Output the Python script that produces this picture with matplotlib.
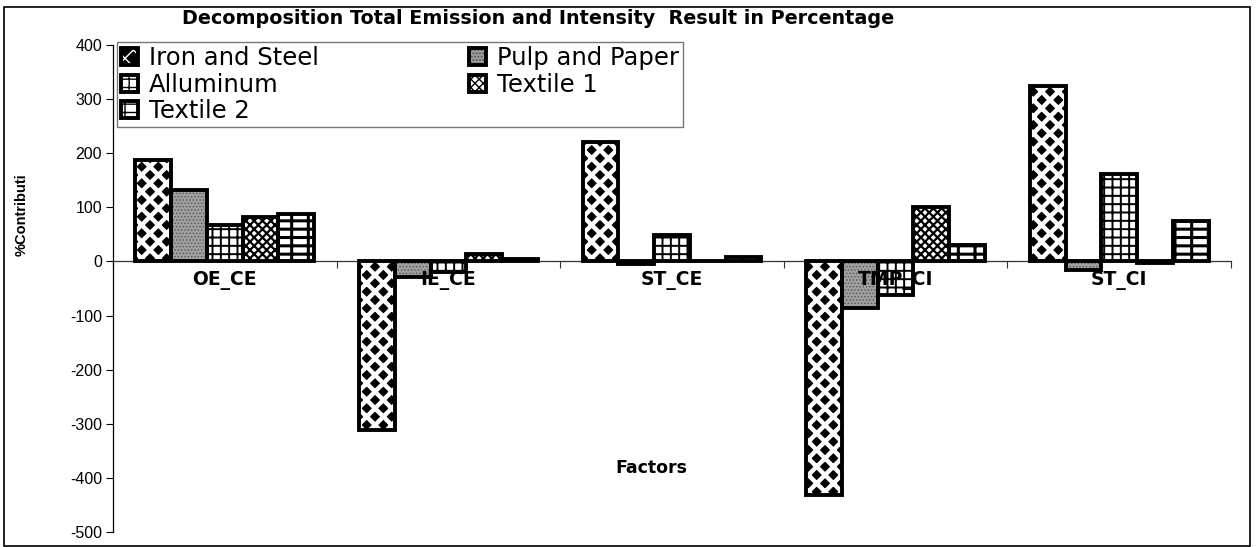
import numpy as np
import matplotlib.pyplot as plt
import matplotlib as mpl
from matplotlib.patches import Rectangle

plt.rcParams['font.family'] = ['Liberation Sans', 'DejaVu Sans']
plt.rcParams['axes.unicode_minus'] = False

# data ------------------------------------------
categories = ['OE_CE', 'IE_CE', 'ST_CE', 'TMP_CI', 'ST_CI']
iron_steel = [187, -311, 221, -432, 325]
pulp_paper = [132, -28, -4, -86, -16]
aluminum = [68, -19, 49, -62, 161]
textile_1 = [83, 14, 0, 101, -3]
textile_2 = [87, 4, 9, 30, 74]
yticks = [-500, -400, -300, -200, -100, 0, 100, 200, 300, 400]

fig = plt.figure(figsize=(12.57, 5.47), dpi=100)
ax = fig.add_axes([113/1257, 1-532/547, (1231-113)/1257, (532-45)/547])

x = np.arange(len(categories))
w = 0.16
wide = ['DejaVu Sans']


def hatched_bar(vals, off, face, hatch, hcolor, hlw):
    with mpl.rc_context({'hatch.linewidth': hlw}):
        fill = ax.bar(x + off, vals, w, color=face, edgecolor=hcolor,
                      linewidth=0, hatch=hatch, zorder=2)
    for p in fill:
        if hasattr(p, 'set_hatch_linewidth'):
            p.set_hatch_linewidth(hlw)
    edge = ax.bar(x + off, vals, w, fill=False, edgecolor='black',
                  linewidth=2.8, zorder=3)
    return fill, edge


series = [
    ('Iron and Steel', iron_steel, 'black', 'xx', 'white', 3.2),
    ('Pulp and Paper', pulp_paper, '#a0a0a0', '.....', '#555555', 0.6),
    ('Alluminum', aluminum, 'white', '++', 'black', 1.4),
    ('Textile 1', textile_1, 'white', 'xxxx', 'black', 1.6),
    ('Textile 2', textile_2, 'white', '--|', 'black', 2.2),
]

handles = {}
for i, (name, vals, face, hatch, hc, hlw) in enumerate(series):
    f, e = hatched_bar(vals, (i - 2) * w, face, hatch, hc, hlw)
    handles[name] = (f[0], e[0])

ax.set_xlim(-0.5, 4.5)
ax.set_ylim(-500, 400)
ax.set_yticks(yticks)
ax.tick_params(axis='y', labelsize=11.5, length=5, width=0.8, pad=3)
ax.spines['top'].set_visible(False)
ax.spines['right'].set_visible(False)
ax.spines['left'].set_linewidth(0.9)
ax.spines['bottom'].set_position(('data', 0))
ax.spines['bottom'].set_linewidth(0.9)
ax.spines['bottom'].set_color('#333333')
ax.set_xticks(np.arange(-0.5, 5, 1))
ax.set_xticklabels([])
ax.tick_params(axis='x', length=5, width=0.8, color='#333333')

for xi, c in zip(x, categories):
    ax.text(xi, -36, c, ha='center', va='center', fontsize=13.5,
            fontweight='bold', family=wide, zorder=5)

fig.text(538/1257, 1-18/547, 'Decomposition Total Emission and Intensity  Result in Percentage',
         ha='center', va='center', fontsize=13.8, fontweight='bold', family=wide)
fig.text(651/1257, 1-468/547, 'Factors', ha='center', va='center',
         fontsize=12.5, fontweight='bold', family=wide)
fig.text(22/1257, 1-215/547, '%Contributi', ha='center', va='center',
         rotation=90, fontsize=10.5, fontweight='bold')

order = ['Iron and Steel', 'Alluminum', 'Textile 2', 'Pulp and Paper', 'Textile 1']
leg = fig.legend([handles[n] for n in order], order, ncol=2,
                 loc='upper left', bbox_to_anchor=(117/1257, 1-42/547),
                 prop={'family': wide, 'size': 17.5}, frameon=True, fancybox=False,
                 handlelength=0.7, handleheight=0.7, handletextpad=0.45,
                 columnspacing=6.2, labelspacing=0.12, borderpad=0.15,
                 borderaxespad=0)
leg.get_frame().set_edgecolor('#555555')
leg.get_frame().set_linewidth(1.0)

fig.patches.append(Rectangle((4/1257, 1/547), 1246/1257, 539/547,
                             transform=fig.transFigure, fill=False,
                             edgecolor='black', linewidth=1.2))

fig.savefig('out.png', dpi=100)
